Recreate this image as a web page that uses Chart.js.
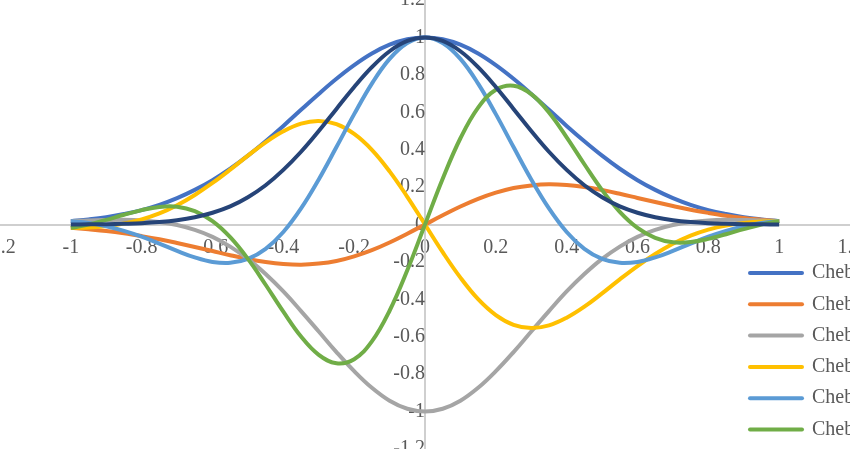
<!DOCTYPE html>
<html>
<head>
<meta charset="utf-8">
<title>Chebyshev</title>
<script src="https://cdn.jsdelivr.net/npm/chart.js@4.4.1/dist/chart.umd.min.js"></script>
<style>
  html, body { margin: 0; padding: 0; overflow: hidden; background: #fff; }
  /* canvas is bigger than the window: the outer 50px ring is cut off like the original crop */
  #wrap { position: absolute; left: -50px; top: -50px; width: 950px; height: 549px; }
</style>
</head>
<body>
<div id="wrap"><canvas id="cheb-chart" width="950" height="549"></canvas></div>
<script>
/* ============================================================
   Chebyshev curves, Excel style scatter with smooth lines
   ============================================================ */

const xValues = [-1, -0.95, -0.9, -0.85, -0.8, -0.75, -0.7, -0.65, -0.6, -0.55, -0.5,
  -0.45, -0.4, -0.35, -0.3, -0.25, -0.2, -0.15, -0.1, -0.05, 0,
  0.05, 0.1, 0.15, 0.2, 0.25, 0.3, 0.35, 0.4, 0.45, 0.5,
  0.55, 0.6, 0.65, 0.7, 0.75, 0.8, 0.85, 0.9, 0.95, 1];

const cheb0 = [0.018, 0.027, 0.039, 0.056, 0.077, 0.105, 0.141, 0.185, 0.237, 0.298, 0.368,
  0.445, 0.527, 0.613, 0.698, 0.779, 0.852, 0.914, 0.961, 0.990, 1.000,
  0.990, 0.961, 0.914, 0.852, 0.779, 0.698, 0.613, 0.527, 0.445, 0.368,
  0.298, 0.237, 0.185, 0.141, 0.105, 0.077, 0.056, 0.039, 0.027, 0.018];
const cheb1 = [-0.018, -0.026, -0.035, -0.047, -0.062, -0.079, -0.099, -0.120, -0.142, -0.164, -0.184,
  -0.200, -0.211, -0.215, -0.209, -0.195, -0.170, -0.137, -0.096, -0.049, 0,
  0.049, 0.096, 0.137, 0.170, 0.195, 0.209, 0.215, 0.211, 0.200, 0.184,
  0.164, 0.142, 0.120, 0.099, 0.079, 0.062, 0.047, 0.035, 0.026, 0.018];
const cheb2 = [0.018, 0.022, 0.024, 0.025, 0.022, 0.013, -0.003, -0.029, -0.066, -0.118, -0.184,
  -0.265, -0.358, -0.463, -0.572, -0.682, -0.784, -0.873, -0.942, -0.985, -1.000,
  -0.985, -0.942, -0.873, -0.784, -0.682, -0.572, -0.463, -0.358, -0.265, -0.184,
  -0.118, -0.066, -0.029, -0.003, 0.013, 0.022, 0.025, 0.024, 0.022, 0.018];
const cheb3 = [-0.018, -0.016, -0.008, 0.005, 0.027, 0.059, 0.103, 0.158, 0.222, 0.293, 0.368,
  0.439, 0.498, 0.539, 0.553, 0.536, 0.484, 0.399, 0.284, 0.148, 0,
  -0.148, -0.284, -0.399, -0.484, -0.536, -0.553, -0.539, -0.498, -0.439, -0.368,
  -0.293, -0.222, -0.158, -0.103, -0.059, -0.027, -0.005, 0.008, 0.016, 0.018];
const cheb4 = [0.018, 0.008, -0.009, -0.034, -0.065, -0.102, -0.141, -0.176, -0.200, -0.205, -0.184,
  -0.130, -0.040, 0.086, 0.241, 0.414, 0.590, 0.753, 0.885, 0.970, 1.000,
  0.970, 0.885, 0.753, 0.590, 0.414, 0.241, 0.086, -0.040, -0.130, -0.184,
  -0.205, -0.200, -0.176, -0.141, -0.102, -0.065, -0.034, -0.009, 0.008, 0.018];
const cheb5 = [-0.018, 0.000, 0.025, 0.052, 0.077, 0.094, 0.095, 0.071, 0.018, -0.068, -0.184,
  -0.322, -0.466, -0.599, -0.697, -0.742, -0.720, -0.625, -0.461, -0.245, 0,
  0.245, 0.461, 0.625, 0.720, 0.742, 0.697, 0.599, 0.466, 0.322, 0.184,
  0.068, -0.018, -0.071, -0.095, -0.094, -0.077, -0.052, -0.025, 0.000, 0.018];
const envelope = [0.000, 0.001, 0.002, 0.004, 0.007, 0.013, 0.023, 0.039, 0.063, 0.097, 0.146,
  0.210, 0.292, 0.389, 0.500, 0.618, 0.735, 0.841, 0.926, 0.981, 1.000,
  0.981, 0.926, 0.841, 0.735, 0.618, 0.500, 0.389, 0.292, 0.210, 0.146,
  0.097, 0.063, 0.039, 0.023, 0.013, 0.007, 0.004, 0.002, 0.001, 0.000];

const seriesNames = ['Chebyshev T0', 'Chebyshev T1', 'Chebyshev T2', 'Chebyshev T3',
  'Chebyshev T4', 'Chebyshev T5', 'Envelope'];
const seriesData = [cheb0, cheb1, cheb2, cheb3, cheb4, cheb5, envelope];
const seriesColors = ['#4472C4', '#ED7D31', '#A5A5A5', '#FFC000', '#5B9BD5', '#70AD47', '#264478'];

const tickValues = [-1.2, -1, -0.8, -0.6, -0.4, -0.2, 0, 0.2, 0.4, 0.6, 0.8, 1, 1.2];
const tickLabels = ['-1.2', '-1', '-0.8', '-0.6', '-0.4', '-0.2', '0', '0.2', '0.4', '0.6', '0.8', '1', '1.2'];

const TEXT_GREY = '#595959';
const AXIS_GREY = '#cfcfcf';
const SERIF = "'Liberation Serif', 'Times New Roman', serif";

/* legend sits over the lower right of the plot, like in Excel */
const legendSpot = {
  id: 'legendSpot',
  afterLayout(chart) {
    const lg = chart.legend;
    if (!lg) return;
    const pad = lg.options.labels.padding;
    lg.left = 800 - pad;
    lg.right = lg.left + lg.width;
    lg.top = 313 - pad;
    lg.bottom = lg.top + lg.height + 100;
  }
};

function buildDatasets() {
  return seriesData.map((vals, i) => ({
    label: seriesNames[i],
    data: xValues.map((x, j) => ({ x: x, y: vals[j] })),
    showLine: true,
    borderColor: seriesColors[i],
    backgroundColor: seriesColors[i],
    borderWidth: 4,
    tension: 0.4,
    fill: false,
    pointRadius: 0,
    pointHoverRadius: 0,
    pointStyle: 'line',
    pointBorderColor: seriesColors[i],
    pointBorderWidth: 4,
    order: seriesData.length - i   // later series drawn on top
  }));
}

function axisOptions(crossAt) {
  return {
    type: 'linear',
    position: crossAt,
    min: -1.2,
    max: 1.2,
    afterBuildTicks: (scale) => { scale.ticks = tickValues.map(v => ({ value: v })); },
    grid: { display: true, drawOnChartArea: false, drawTicks: false },
    border: { display: true, color: AXIS_GREY, width: 2 },
    ticks: {
      autoSkip: false,
      maxRotation: 0,
      color: TEXT_GREY,
      font: { family: SERIF, size: 20 },
      callback: (value, index) => tickLabels[index]
    }
  };
}

function roundCaps(chart) {
  const items = Chart.defaults.plugins.legend.labels.generateLabels(chart);
  return items.map(item => Object.assign(item, { lineCap: 'round' }));
}

function initChebChart() {
  const ctx = document.getElementById('cheb-chart');
  const xAxis = axisOptions({ y: 0 });
  xAxis.ticks.padding = 11;
  const yAxis = axisOptions({ x: 0 });
  yAxis.ticks.padding = 19;

  window.chebChart = new Chart(ctx, {
    type: 'scatter',
    data: { datasets: buildDatasets() },
    options: {
      responsive: false,
      animation: false,
      layout: { padding: { left: 50, right: 50, top: 50, bottom: 50 } },
      scales: { x: xAxis, y: yAxis },
      plugins: {
        tooltip: { enabled: false },
        legend: {
          position: 'chartArea',
          align: 'start',
          labels: {
            usePointStyle: true,
            pointStyleWidth: 52,
            padding: 11.3,
            color: TEXT_GREY,
            font: { family: SERIF, size: 20 },
            generateLabels: roundCaps,
            sort: (a, b) => a.datasetIndex - b.datasetIndex
          }
        }
      }
    },
    plugins: [legendSpot]
  });
}

initChebChart();
</script>
</body>
</html>
